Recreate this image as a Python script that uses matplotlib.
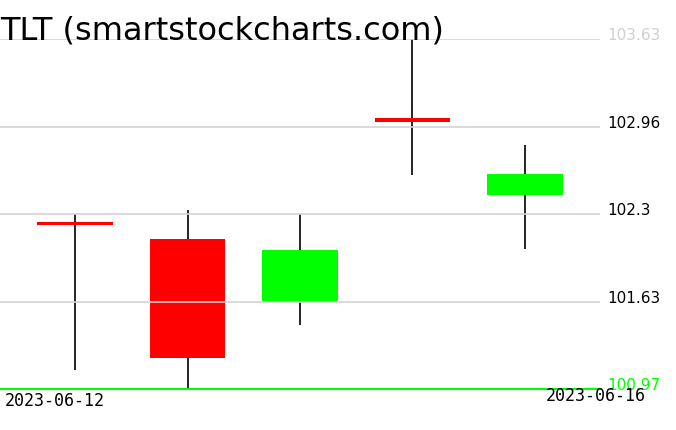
import matplotlib
matplotlib.use("Agg")
import matplotlib.pyplot as plt
from matplotlib.patches import Rectangle

dates = ["2023-06-12", "2023-06-13", "2023-06-14", "2023-06-15", "2023-06-16"]
opens = [102.24, 102.11, 101.63, 103.03, 102.45]
closes = [102.22, 101.21, 102.03, 103.00, 102.61]
highs = [102.30, 102.33, 102.30, 103.63, 102.83]
lows = [101.12, 100.97, 101.46, 102.60, 102.04]

tick_values = [100.97, 101.635, 102.30, 102.965, 103.63]
tick_labels = ["100.97", "101.63", "102.3", "102.96", "103.63"]
tick_colors = ["#00ff00", "black", "black", "black", "#d0d0d0"]

title = "TLT (smartstockcharts.com)"

W, H = 676, 431
fig = plt.figure(figsize=(W / 100, H / 100), dpi=100)
ax = fig.add_axes([0, (H - 390.3) / H, 600 / W, 350 / H])

font = "DejaVu Sans"
body_w = 0.67
min_h = 0.02
for i in range(len(dates)):
    o, c, h, l = opens[i], closes[i], highs[i], lows[i]
    color = "#00ff00" if c > o else "#ff0000"
    ax.vlines(i, l, h, color="black", linewidth=1.2, zorder=1)
    bottom = min(o, c)
    height = max(abs(c - o), min_h)
    ax.add_patch(Rectangle((i - body_w / 2, bottom), body_w, height,
                           facecolor=color, edgecolor="none", zorder=2))

for v in tick_values[1:]:
    ax.axhline(v, color="#d3d3d3", linewidth=1.2, zorder=3)
ax.axhline(tick_values[0], color="#00ff00", linewidth=1.5, zorder=3, clip_on=False)

ax.set_xlim(-0.667, len(dates) - 1 + 0.667)
ax.set_ylim(tick_values[0], tick_values[-1])
for s in ax.spines.values():
    s.set_visible(False)
ax.set_xticks([])
ax.yaxis.tick_right()
ax.set_yticks(tick_values)
ax.set_yticklabels(tick_labels)
ax.tick_params(axis="y", length=0, pad=5)
for lab, col in zip(ax.get_yticklabels(), tick_colors):
    lab.set_color(col)
    lab.set_fontsize(11)
    lab.set_family(font)
    lab.set_verticalalignment("baseline")

fig.text(0 / W, 1 - 39 / H, title, fontsize=23, family=font,
         ha="left", va="baseline")
fig.text(5 / W, 1 - 406 / H, dates[0], fontsize=12, family="DejaVu Sans Mono",
         ha="left", va="baseline")
fig.text(646 / W, 1 - 401.5 / H, dates[-1], fontsize=12, family="DejaVu Sans Mono",
         ha="right", va="baseline")

fig.savefig("out.png", dpi=100)
